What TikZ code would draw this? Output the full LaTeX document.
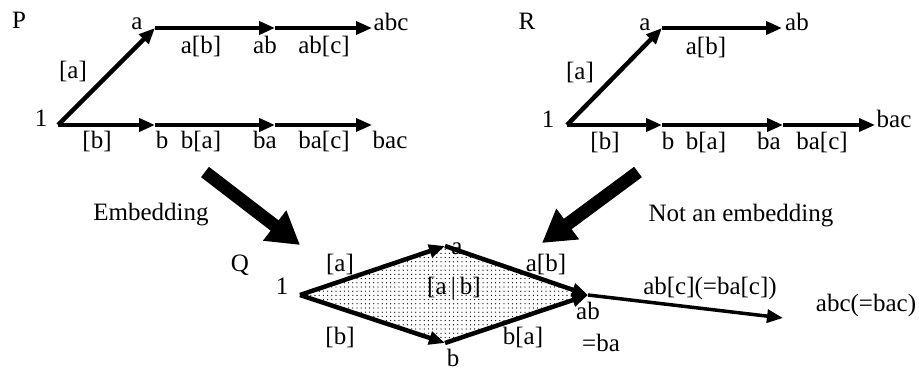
\documentclass[tikz,border=0pt]{standalone}
\usepackage{fontspec}
\setmainfont{Liberation Serif}
\usetikzlibrary{arrows.meta, patterns}

\pgfdeclarepatternformonly{sparse dots}{\pgfqpoint{-1pt}{-1pt}}{\pgfqpoint{1pt}{1pt}}{\pgfqpoint{4.2pt}{4.2pt}}%
{\pgfpathcircle{\pgfqpoint{0pt}{0pt}}{0.65pt}\pgfusepath{fill}}

\begin{document}
\begin{tikzpicture}[
        x=1pt, y=-1pt,
        lbl/.style={font=\fontsize{25}{28}\selectfont, inner sep=0pt, anchor=base},
        trans/.style={-{Triangle[length=16pt, width=13pt]}, line width=4.5pt, draw=black},
        thintrans/.style={-{Triangle[length=16pt, width=13pt]}, line width=3.5pt, draw=black},
        bigarrow/.style={-{Triangle[length=32pt, width=36pt]}, line width=13pt, draw=black}
    ]
        \useasboundingbox (0,0) rectangle (919,371);

        % P
        \coordinate (p1) at (58,125);
        \coordinate (pa) at (155,28);
        \coordinate (pab) at (275,28);
        \coordinate (pabc) at (372,28);
        \coordinate (pb) at (155,125);
        \coordinate (pba) at (275,125);
        \coordinate (pbac) at (372,125);

        \node[lbl] (pname) at (19,29) {P};
        \node[lbl] (pone) at (41,127) {1};
        \node[lbl] (pla) at (137,30) {a};
        \node[lbl] (plabc) at (391,31) {abc};
        \node[lbl] (plea) at (73,79) {[a]};
        \node[lbl] (pleab) at (201,54) {a[b]};
        \node[lbl] (plab) at (265,54) {ab};
        \node[lbl] (pleabc) at (324,54) {ab[c]};
        \node[lbl] (pleb) at (97,149) {[b]};
        \node[lbl] (plb) at (162,149) {b};
        \node[lbl] (pleba) at (201,149) {b[a]};
        \node[lbl] (plba) at (265,149) {ba};
        \node[lbl] (plebac) at (324,149) {ba[c]};
        \node[lbl] (plbac) at (390,149) {bac};

        \draw[trans] (p1) -- (pa);
        \draw[trans] (pa) -- (pab);
        \draw[thintrans] (pab) -- (pabc);
        \draw[trans] (p1) -- (pb);
        \draw[trans] (pb) -- (pba);
        \draw[thintrans] (pba) -- (pbac);

        % R
        \coordinate (r1) at (567,125);
        \coordinate (ra) at (662,28);
        \coordinate (rab) at (782,28);
        \coordinate (rb) at (662,125);
        \coordinate (rba) at (783,125);
        \coordinate (rbac) at (875,125);

        \node[lbl] (rname) at (527,30) {R};
        \node[lbl] (rone) at (548,128) {1};
        \node[lbl] (rla) at (645,31) {a};
        \node[lbl] (rlab) at (797,31) {ab};
        \node[lbl] (rlea) at (580,80) {[a]};
        \node[lbl] (rleab) at (706,55) {a[b]};
        \node[lbl] (rleb) at (605,150) {[b]};
        \node[lbl] (rlb) at (668,150) {b};
        \node[lbl] (rleba) at (706,150) {b[a]};
        \node[lbl] (rlba) at (769,150) {ba};
        \node[lbl] (rlebac) at (822,150) {ba[c]};
        \node[lbl] (rlbac) at (894,128) {bac};

        \draw[trans] (r1) -- (ra);
        \draw[trans] (ra) -- (rab);
        \draw[trans] (r1) -- (rb);
        \draw[trans] (rb) -- (rba);
        \draw[thintrans] (rba) -- (rbac);

        % embeddings
        \coordinate (emfrom) at (205,172);
        \coordinate (emto) at (300,245);
        \coordinate (nemfrom) at (638,172);
        \coordinate (nemto) at (542,243);
        \draw[bigarrow] (emfrom) -- (emto);
        \draw[bigarrow] (nemfrom) -- (nemto);
        \node[lbl] (emb) at (151,221) {Embedding};
        \node[lbl] (nemb) at (741,222) {Not an embedding};

        % Q
        \coordinate (q1) at (300,295);
        \coordinate (qa) at (445,246);
        \coordinate (qb) at (445,343);
        \coordinate (qab) at (588,295);
        \coordinate (qabc) at (783,318);

        \fill[pattern=sparse dots] (q1) -- (qa) -- (qab) -- (qb) -- cycle;

        \node[lbl] (qname) at (240,272) {Q};
        \node[lbl] (qone) at (282,295) {1};
        \node[lbl] (qla) at (457,255) {a};
        \node[lbl] (qlb) at (453,367) {b};
        \node[lbl] (qlea) at (340,272) {[a]};
        \node[lbl] (qleb) at (340,345) {[b]};
        \node[lbl] (qlconc) at (454,295) {[a\,|\,b]};
        \node[lbl] (qleab) at (546,272) {a[b]};
        \node[lbl] (qleba) at (523,345) {b[a]};
        \node[lbl] (qlab) at (588,320) {ab};
        \node[lbl] (qlba) at (601,352) {=ba};
        \node[lbl] (qleabc) at (710,295) {ab[c](=ba[c])};
        \node[lbl] (qlabc) at (866,312) {abc(=bac)};

        \draw[trans] (q1) -- (qa);
        \draw[trans] (q1) -- (qb);
        \draw[trans] (qa) -- (qab);
        \draw[trans] (qb) -- (qab);
        \draw[thintrans] (qab) -- (qabc);
    \end{tikzpicture}
\end{document}
